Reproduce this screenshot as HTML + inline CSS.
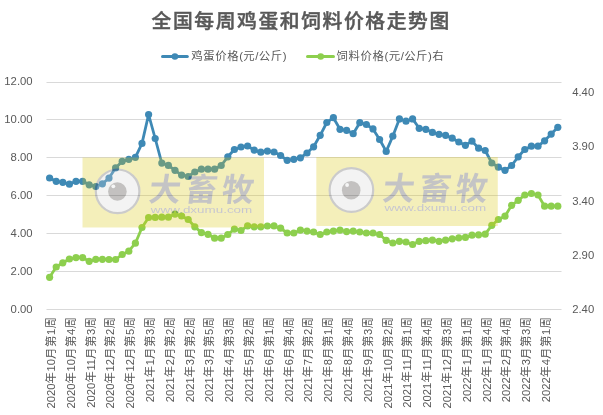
<!DOCTYPE html>
<html lang="zh-CN"><head><meta charset="utf-8"><title>全国每周鸡蛋和饲料价格走势图</title>
<style>
html,body{margin:0;padding:0;background:#fff;}
body{width:603px;height:415px;overflow:hidden;}
svg{display:block;font-family:"Liberation Sans","Noto Sans CJK SC",sans-serif;}
.ax{font-size:11.3px;fill:#595959;}
.xl{font-size:11.4px;fill:#595959;letter-spacing:0.6px;}
.xl .d{font-size:11.3px;letter-spacing:0;}
.lg{font-size:11.4px;fill:#595959;letter-spacing:0.6px;}
.lg .d{letter-spacing:0.3px;}
.ttl{font-size:19.8px;font-weight:500;fill:#585858;stroke:#585858;stroke-width:0.45px;font-family:"Liberation Sans","Noto Sans CJK SC",sans-serif;}
.wm1{font-size:32px;font-weight:700;fill:#2e2e32;font-family:"Liberation Sans","Noto Sans CJK SC",sans-serif;}
.wm2{font-size:9px;fill:#34345c;font-family:"Liberation Sans",sans-serif;}
</style></head><body>
<svg width="603" height="415" viewBox="0 0 603 415">
<defs><filter id="sb" x="-5%" y="-10%" width="110%" height="120%"><feGaussianBlur stdDeviation="0.7"/></filter></defs>
<rect width="603" height="415" fill="#fff"/>
<rect x="46.5" y="82" width="515" height="1" fill="#d9d9d9"/>
<rect x="46.5" y="119" width="515" height="1" fill="#d9d9d9"/>
<rect x="46.5" y="157" width="515" height="1" fill="#d9d9d9"/>
<rect x="46.5" y="195" width="515" height="1" fill="#d9d9d9"/>
<rect x="46.5" y="233" width="515" height="1" fill="#d9d9d9"/>
<rect x="46.5" y="271" width="515" height="1" fill="#d9d9d9"/>
<rect x="46.5" y="309" width="515" height="1" fill="#d9d9d9"/>
<text class="ttl" x="300.4" y="28.3" text-anchor="middle" textLength="297.8" lengthAdjust="spacing">全国每周鸡蛋和饲料价格走势图</text>
<line x1="162.5" y1="56.5" x2="187.3" y2="56.5" stroke="#3E89B5" stroke-width="3" stroke-linecap="round"/><circle cx="174.9" cy="56.5" r="3.3" fill="#3E89B5"/>
<text class="lg" x="191.2" y="60">鸡蛋价格<tspan class="d">(</tspan>元<tspan class="d">/</tspan>公斤<tspan class="d">)</tspan></text>
<line x1="307.5" y1="56.5" x2="333.5" y2="56.5" stroke="#8DCF4E" stroke-width="3" stroke-linecap="round"/><circle cx="320.7" cy="56.5" r="3.3" fill="#8DCF4E"/>
<text class="lg" x="336.6" y="60">饲料价格<tspan class="d">(</tspan>元<tspan class="d">/</tspan>公斤<tspan class="d">)</tspan>右</text>
<text class="ax" x="32.6" y="85.3" text-anchor="end">12.00</text>
<text class="ax" x="32.6" y="123.2" text-anchor="end">10.00</text>
<text class="ax" x="32.6" y="161.1" text-anchor="end">8.00</text>
<text class="ax" x="32.6" y="199.0" text-anchor="end">6.00</text>
<text class="ax" x="32.6" y="236.9" text-anchor="end">4.00</text>
<text class="ax" x="32.6" y="274.8" text-anchor="end">2.00</text>
<text class="ax" x="32.6" y="312.7" text-anchor="end">0.00</text>
<text class="ax" x="572.2" y="313.2">2.40</text>
<text class="ax" x="572.2" y="258.9">2.90</text>
<text class="ax" x="572.2" y="204.7">3.40</text>
<text class="ax" x="572.2" y="150.4">3.90</text>
<text class="ax" x="572.2" y="96.2">4.40</text>
<text class="xl" transform="translate(50.8,316.6) rotate(-90)" text-anchor="end" x="0" y="4.2"><tspan class="d">2020</tspan>年<tspan class="d">10</tspan>月第<tspan class="d">1</tspan>周</text>
<text class="xl" transform="translate(70.6,316.6) rotate(-90)" text-anchor="end" x="0" y="4.2"><tspan class="d">2020</tspan>年<tspan class="d">10</tspan>月第<tspan class="d">4</tspan>周</text>
<text class="xl" transform="translate(90.4,316.6) rotate(-90)" text-anchor="end" x="0" y="4.2"><tspan class="d">2020</tspan>年<tspan class="d">11</tspan>月第<tspan class="d">3</tspan>周</text>
<text class="xl" transform="translate(110.2,316.6) rotate(-90)" text-anchor="end" x="0" y="4.2"><tspan class="d">2020</tspan>年<tspan class="d">12</tspan>月第<tspan class="d">2</tspan>周</text>
<text class="xl" transform="translate(130.0,316.6) rotate(-90)" text-anchor="end" x="0" y="4.2"><tspan class="d">2020</tspan>年<tspan class="d">12</tspan>月第<tspan class="d">5</tspan>周</text>
<text class="xl" transform="translate(149.8,316.6) rotate(-90)" text-anchor="end" x="0" y="4.2"><tspan class="d">2021</tspan>年<tspan class="d">1</tspan>月第<tspan class="d">3</tspan>周</text>
<text class="xl" transform="translate(169.6,316.6) rotate(-90)" text-anchor="end" x="0" y="4.2"><tspan class="d">2021</tspan>年<tspan class="d">2</tspan>月第<tspan class="d">2</tspan>周</text>
<text class="xl" transform="translate(189.4,316.6) rotate(-90)" text-anchor="end" x="0" y="4.2"><tspan class="d">2021</tspan>年<tspan class="d">3</tspan>月第<tspan class="d">2</tspan>周</text>
<text class="xl" transform="translate(209.2,316.6) rotate(-90)" text-anchor="end" x="0" y="4.2"><tspan class="d">2021</tspan>年<tspan class="d">3</tspan>月第<tspan class="d">5</tspan>周</text>
<text class="xl" transform="translate(229.0,316.6) rotate(-90)" text-anchor="end" x="0" y="4.2"><tspan class="d">2021</tspan>年<tspan class="d">4</tspan>月第<tspan class="d">3</tspan>周</text>
<text class="xl" transform="translate(248.8,316.6) rotate(-90)" text-anchor="end" x="0" y="4.2"><tspan class="d">2021</tspan>年<tspan class="d">5</tspan>月第<tspan class="d">2</tspan>周</text>
<text class="xl" transform="translate(268.6,316.6) rotate(-90)" text-anchor="end" x="0" y="4.2"><tspan class="d">2021</tspan>年<tspan class="d">6</tspan>月第<tspan class="d">1</tspan>周</text>
<text class="xl" transform="translate(288.4,316.6) rotate(-90)" text-anchor="end" x="0" y="4.2"><tspan class="d">2021</tspan>年<tspan class="d">6</tspan>月第<tspan class="d">4</tspan>周</text>
<text class="xl" transform="translate(308.2,316.6) rotate(-90)" text-anchor="end" x="0" y="4.2"><tspan class="d">2021</tspan>年<tspan class="d">7</tspan>月第<tspan class="d">2</tspan>周</text>
<text class="xl" transform="translate(328.0,316.6) rotate(-90)" text-anchor="end" x="0" y="4.2"><tspan class="d">2021</tspan>年<tspan class="d">8</tspan>月第<tspan class="d">1</tspan>周</text>
<text class="xl" transform="translate(347.8,316.6) rotate(-90)" text-anchor="end" x="0" y="4.2"><tspan class="d">2021</tspan>年<tspan class="d">8</tspan>月第<tspan class="d">4</tspan>周</text>
<text class="xl" transform="translate(367.6,316.6) rotate(-90)" text-anchor="end" x="0" y="4.2"><tspan class="d">2021</tspan>年<tspan class="d">9</tspan>月第<tspan class="d">3</tspan>周</text>
<text class="xl" transform="translate(387.4,316.6) rotate(-90)" text-anchor="end" x="0" y="4.2"><tspan class="d">2021</tspan>年<tspan class="d">10</tspan>月第<tspan class="d">2</tspan>周</text>
<text class="xl" transform="translate(407.2,316.6) rotate(-90)" text-anchor="end" x="0" y="4.2"><tspan class="d">2021</tspan>年<tspan class="d">11</tspan>月第<tspan class="d">1</tspan>周</text>
<text class="xl" transform="translate(427.0,316.6) rotate(-90)" text-anchor="end" x="0" y="4.2"><tspan class="d">2021</tspan>年<tspan class="d">11</tspan>月第<tspan class="d">4</tspan>周</text>
<text class="xl" transform="translate(446.8,316.6) rotate(-90)" text-anchor="end" x="0" y="4.2"><tspan class="d">2021</tspan>年<tspan class="d">12</tspan>月第<tspan class="d">3</tspan>周</text>
<text class="xl" transform="translate(466.6,316.6) rotate(-90)" text-anchor="end" x="0" y="4.2"><tspan class="d">2022</tspan>年<tspan class="d">1</tspan>月第<tspan class="d">1</tspan>周</text>
<text class="xl" transform="translate(486.4,316.6) rotate(-90)" text-anchor="end" x="0" y="4.2"><tspan class="d">2022</tspan>年<tspan class="d">1</tspan>月第<tspan class="d">4</tspan>周</text>
<text class="xl" transform="translate(506.2,316.6) rotate(-90)" text-anchor="end" x="0" y="4.2"><tspan class="d">2022</tspan>年<tspan class="d">2</tspan>月第<tspan class="d">4</tspan>周</text>
<text class="xl" transform="translate(526.0,316.6) rotate(-90)" text-anchor="end" x="0" y="4.2"><tspan class="d">2022</tspan>年<tspan class="d">3</tspan>月第<tspan class="d">3</tspan>周</text>
<text class="xl" transform="translate(545.8,316.6) rotate(-90)" text-anchor="end" x="0" y="4.2"><tspan class="d">2022</tspan>年<tspan class="d">4</tspan>月第<tspan class="d">1</tspan>周</text>
<polyline points="49.6,178.0 56.2,181.3 62.8,182.3 69.4,184.2 76.0,181.3 82.6,181.3 89.2,184.8 95.8,186.5 102.4,183.8 109.0,178.1 115.6,167.9 122.2,161.3 128.8,159.3 135.4,157.3 142.0,143.4 148.6,114.5 155.2,138.5 161.8,163.1 168.4,165.4 175.0,170.3 181.6,175.1 188.2,176.5 194.8,172.0 201.4,169.2 208.0,169.2 214.6,169.2 221.2,165.5 227.8,156.8 234.4,149.5 241.0,147.0 247.6,146.0 254.2,150.1 260.8,152.2 267.4,151.1 274.0,152.0 280.6,155.5 287.2,160.3 293.8,159.3 300.4,157.8 307.0,153.0 313.6,146.8 320.2,135.3 326.8,122.5 333.4,117.7 340.0,129.3 346.6,130.3 353.2,133.7 359.8,122.7 366.4,124.5 373.0,128.9 379.6,139.5 386.2,151.4 392.8,136.2 399.4,118.9 406.0,121.2 412.6,118.9 419.2,128.3 425.8,129.3 432.4,132.4 439.0,134.3 445.6,135.3 452.2,138.2 458.8,142.0 465.4,145.3 472.0,141.1 478.6,148.2 485.2,150.5 491.8,163.0 498.4,167.2 505.0,170.3 511.6,165.5 518.2,156.8 524.8,149.5 531.4,146.2 538.0,146.2 544.6,140.8 551.2,134.1 557.8,127.3" fill="none" stroke="#3E89B5" stroke-width="2.8" stroke-linejoin="round" stroke-linecap="round"/><g fill="#3E89B5"><circle cx="49.6" cy="178.0" r="3.6"/><circle cx="56.2" cy="181.3" r="3.6"/><circle cx="62.8" cy="182.3" r="3.6"/><circle cx="69.4" cy="184.2" r="3.6"/><circle cx="76.0" cy="181.3" r="3.6"/><circle cx="82.6" cy="181.3" r="3.6"/><circle cx="89.2" cy="184.8" r="3.6"/><circle cx="95.8" cy="186.5" r="3.6"/><circle cx="102.4" cy="183.8" r="3.6"/><circle cx="109.0" cy="178.1" r="3.6"/><circle cx="115.6" cy="167.9" r="3.6"/><circle cx="122.2" cy="161.3" r="3.6"/><circle cx="128.8" cy="159.3" r="3.6"/><circle cx="135.4" cy="157.3" r="3.6"/><circle cx="142.0" cy="143.4" r="3.6"/><circle cx="148.6" cy="114.5" r="3.6"/><circle cx="155.2" cy="138.5" r="3.6"/><circle cx="161.8" cy="163.1" r="3.6"/><circle cx="168.4" cy="165.4" r="3.6"/><circle cx="175.0" cy="170.3" r="3.6"/><circle cx="181.6" cy="175.1" r="3.6"/><circle cx="188.2" cy="176.5" r="3.6"/><circle cx="194.8" cy="172.0" r="3.6"/><circle cx="201.4" cy="169.2" r="3.6"/><circle cx="208.0" cy="169.2" r="3.6"/><circle cx="214.6" cy="169.2" r="3.6"/><circle cx="221.2" cy="165.5" r="3.6"/><circle cx="227.8" cy="156.8" r="3.6"/><circle cx="234.4" cy="149.5" r="3.6"/><circle cx="241.0" cy="147.0" r="3.6"/><circle cx="247.6" cy="146.0" r="3.6"/><circle cx="254.2" cy="150.1" r="3.6"/><circle cx="260.8" cy="152.2" r="3.6"/><circle cx="267.4" cy="151.1" r="3.6"/><circle cx="274.0" cy="152.0" r="3.6"/><circle cx="280.6" cy="155.5" r="3.6"/><circle cx="287.2" cy="160.3" r="3.6"/><circle cx="293.8" cy="159.3" r="3.6"/><circle cx="300.4" cy="157.8" r="3.6"/><circle cx="307.0" cy="153.0" r="3.6"/><circle cx="313.6" cy="146.8" r="3.6"/><circle cx="320.2" cy="135.3" r="3.6"/><circle cx="326.8" cy="122.5" r="3.6"/><circle cx="333.4" cy="117.7" r="3.6"/><circle cx="340.0" cy="129.3" r="3.6"/><circle cx="346.6" cy="130.3" r="3.6"/><circle cx="353.2" cy="133.7" r="3.6"/><circle cx="359.8" cy="122.7" r="3.6"/><circle cx="366.4" cy="124.5" r="3.6"/><circle cx="373.0" cy="128.9" r="3.6"/><circle cx="379.6" cy="139.5" r="3.6"/><circle cx="386.2" cy="151.4" r="3.6"/><circle cx="392.8" cy="136.2" r="3.6"/><circle cx="399.4" cy="118.9" r="3.6"/><circle cx="406.0" cy="121.2" r="3.6"/><circle cx="412.6" cy="118.9" r="3.6"/><circle cx="419.2" cy="128.3" r="3.6"/><circle cx="425.8" cy="129.3" r="3.6"/><circle cx="432.4" cy="132.4" r="3.6"/><circle cx="439.0" cy="134.3" r="3.6"/><circle cx="445.6" cy="135.3" r="3.6"/><circle cx="452.2" cy="138.2" r="3.6"/><circle cx="458.8" cy="142.0" r="3.6"/><circle cx="465.4" cy="145.3" r="3.6"/><circle cx="472.0" cy="141.1" r="3.6"/><circle cx="478.6" cy="148.2" r="3.6"/><circle cx="485.2" cy="150.5" r="3.6"/><circle cx="491.8" cy="163.0" r="3.6"/><circle cx="498.4" cy="167.2" r="3.6"/><circle cx="505.0" cy="170.3" r="3.6"/><circle cx="511.6" cy="165.5" r="3.6"/><circle cx="518.2" cy="156.8" r="3.6"/><circle cx="524.8" cy="149.5" r="3.6"/><circle cx="531.4" cy="146.2" r="3.6"/><circle cx="538.0" cy="146.2" r="3.6"/><circle cx="544.6" cy="140.8" r="3.6"/><circle cx="551.2" cy="134.1" r="3.6"/><circle cx="557.8" cy="127.3" r="3.6"/></g>
<polyline points="49.6,277.3 56.2,267.0 62.8,262.8 69.4,259.0 76.0,257.6 82.6,257.6 89.2,261.3 95.8,259.3 102.4,259.3 109.0,259.5 115.6,259.5 122.2,254.5 128.8,251.2 135.4,243.2 142.0,227.5 148.6,217.5 155.2,217.4 161.8,217.2 168.4,217.2 175.0,214.1 181.6,216.0 188.2,219.5 194.8,226.8 201.4,232.6 208.0,234.3 214.6,238.2 221.2,238.2 227.8,234.5 234.4,229.1 241.0,230.5 247.6,225.9 254.2,226.8 260.8,226.8 267.4,226.0 274.0,225.9 280.6,228.2 287.2,233.0 293.8,233.0 300.4,230.1 307.0,231.1 313.6,232.0 320.2,234.5 326.8,232.0 333.4,231.1 340.0,230.1 346.6,231.6 353.2,231.1 359.8,232.0 366.4,233.0 373.0,233.0 379.6,234.5 386.2,240.3 392.8,243.0 399.4,241.3 406.0,242.0 412.6,244.5 419.2,241.3 425.8,240.7 432.4,240.1 439.0,241.3 445.6,240.1 452.2,238.8 458.8,237.8 465.4,237.4 472.0,235.2 478.6,234.8 485.2,234.2 491.8,225.3 498.4,219.5 505.0,216.2 511.6,205.3 518.2,200.3 524.8,195.0 531.4,193.5 538.0,195.0 544.6,206.2 551.2,206.2 557.8,206.2" fill="none" stroke="#8DCF4E" stroke-width="2.8" stroke-linejoin="round" stroke-linecap="round"/><g fill="#8DCF4E"><circle cx="49.6" cy="277.3" r="3.6"/><circle cx="56.2" cy="267.0" r="3.6"/><circle cx="62.8" cy="262.8" r="3.6"/><circle cx="69.4" cy="259.0" r="3.6"/><circle cx="76.0" cy="257.6" r="3.6"/><circle cx="82.6" cy="257.6" r="3.6"/><circle cx="89.2" cy="261.3" r="3.6"/><circle cx="95.8" cy="259.3" r="3.6"/><circle cx="102.4" cy="259.3" r="3.6"/><circle cx="109.0" cy="259.5" r="3.6"/><circle cx="115.6" cy="259.5" r="3.6"/><circle cx="122.2" cy="254.5" r="3.6"/><circle cx="128.8" cy="251.2" r="3.6"/><circle cx="135.4" cy="243.2" r="3.6"/><circle cx="142.0" cy="227.5" r="3.6"/><circle cx="148.6" cy="217.5" r="3.6"/><circle cx="155.2" cy="217.4" r="3.6"/><circle cx="161.8" cy="217.2" r="3.6"/><circle cx="168.4" cy="217.2" r="3.6"/><circle cx="175.0" cy="214.1" r="3.6"/><circle cx="181.6" cy="216.0" r="3.6"/><circle cx="188.2" cy="219.5" r="3.6"/><circle cx="194.8" cy="226.8" r="3.6"/><circle cx="201.4" cy="232.6" r="3.6"/><circle cx="208.0" cy="234.3" r="3.6"/><circle cx="214.6" cy="238.2" r="3.6"/><circle cx="221.2" cy="238.2" r="3.6"/><circle cx="227.8" cy="234.5" r="3.6"/><circle cx="234.4" cy="229.1" r="3.6"/><circle cx="241.0" cy="230.5" r="3.6"/><circle cx="247.6" cy="225.9" r="3.6"/><circle cx="254.2" cy="226.8" r="3.6"/><circle cx="260.8" cy="226.8" r="3.6"/><circle cx="267.4" cy="226.0" r="3.6"/><circle cx="274.0" cy="225.9" r="3.6"/><circle cx="280.6" cy="228.2" r="3.6"/><circle cx="287.2" cy="233.0" r="3.6"/><circle cx="293.8" cy="233.0" r="3.6"/><circle cx="300.4" cy="230.1" r="3.6"/><circle cx="307.0" cy="231.1" r="3.6"/><circle cx="313.6" cy="232.0" r="3.6"/><circle cx="320.2" cy="234.5" r="3.6"/><circle cx="326.8" cy="232.0" r="3.6"/><circle cx="333.4" cy="231.1" r="3.6"/><circle cx="340.0" cy="230.1" r="3.6"/><circle cx="346.6" cy="231.6" r="3.6"/><circle cx="353.2" cy="231.1" r="3.6"/><circle cx="359.8" cy="232.0" r="3.6"/><circle cx="366.4" cy="233.0" r="3.6"/><circle cx="373.0" cy="233.0" r="3.6"/><circle cx="379.6" cy="234.5" r="3.6"/><circle cx="386.2" cy="240.3" r="3.6"/><circle cx="392.8" cy="243.0" r="3.6"/><circle cx="399.4" cy="241.3" r="3.6"/><circle cx="406.0" cy="242.0" r="3.6"/><circle cx="412.6" cy="244.5" r="3.6"/><circle cx="419.2" cy="241.3" r="3.6"/><circle cx="425.8" cy="240.7" r="3.6"/><circle cx="432.4" cy="240.1" r="3.6"/><circle cx="439.0" cy="241.3" r="3.6"/><circle cx="445.6" cy="240.1" r="3.6"/><circle cx="452.2" cy="238.8" r="3.6"/><circle cx="458.8" cy="237.8" r="3.6"/><circle cx="465.4" cy="237.4" r="3.6"/><circle cx="472.0" cy="235.2" r="3.6"/><circle cx="478.6" cy="234.8" r="3.6"/><circle cx="485.2" cy="234.2" r="3.6"/><circle cx="491.8" cy="225.3" r="3.6"/><circle cx="498.4" cy="219.5" r="3.6"/><circle cx="505.0" cy="216.2" r="3.6"/><circle cx="511.6" cy="205.3" r="3.6"/><circle cx="518.2" cy="200.3" r="3.6"/><circle cx="524.8" cy="195.0" r="3.6"/><circle cx="531.4" cy="193.5" r="3.6"/><circle cx="538.0" cy="195.0" r="3.6"/><circle cx="544.6" cy="206.2" r="3.6"/><circle cx="551.2" cy="206.2" r="3.6"/><circle cx="557.8" cy="206.2" r="3.6"/></g>
<g transform="translate(0.0,0.0)" opacity="0.28"><rect x="82.5" y="157.5" width="181.5" height="70.0" fill="#dac70e" filter="url(#sb)"/><circle cx="117.6" cy="191.3" r="21.8" fill="#d6d6d6" stroke="#484848" stroke-width="2.2"/><circle cx="117.4" cy="191.5" r="9.3" fill="#2a2622"/><circle cx="113.3" cy="186.3" r="1.9" fill="#e0e0e0"/><text class="wm1" transform="translate(0,201.5) skewX(-7) translate(0,-201.5)" x="147.7" y="201.5" textLength="105" lengthAdjust="spacing">大畜牧</text><text class="wm2" x="150.8" y="212.6" textLength="101.5" lengthAdjust="spacingAndGlyphs">www.dxumu.com</text></g>
<g transform="translate(233.8,-1.3)" opacity="0.28"><rect x="82.5" y="158.3" width="181.5" height="69.0" fill="#dac70e" filter="url(#sb)"/><circle cx="117.6" cy="191.3" r="21.8" fill="#d6d6d6" stroke="#484848" stroke-width="2.2"/><circle cx="117.4" cy="191.5" r="9.3" fill="#2a2622"/><circle cx="113.3" cy="186.3" r="1.9" fill="#e0e0e0"/><text class="wm1" transform="translate(0,201.5) skewX(-7) translate(0,-201.5)" x="147.7" y="201.5" textLength="105" lengthAdjust="spacing">大畜牧</text><text class="wm2" x="150.8" y="212.6" textLength="101.5" lengthAdjust="spacingAndGlyphs">www.dxumu.com</text></g>
</svg></body></html>
